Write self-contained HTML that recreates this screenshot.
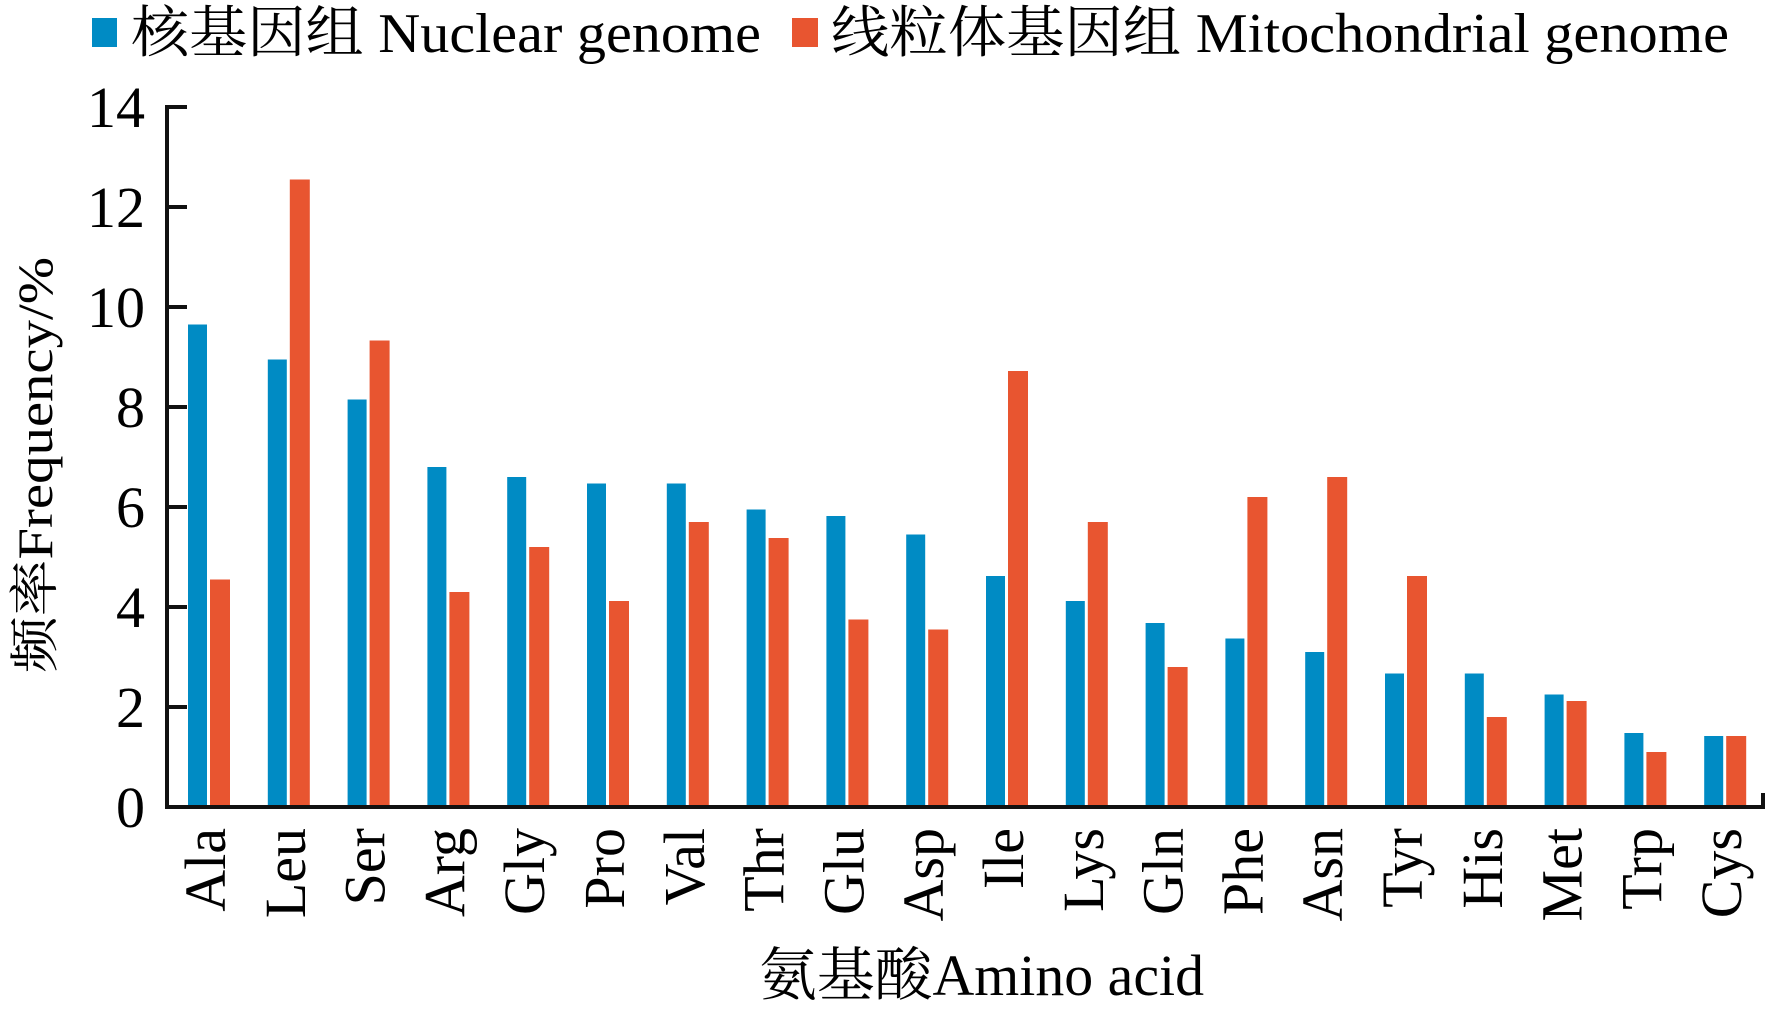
<!DOCTYPE html>
<html><head><meta charset="utf-8"><style>html,body{margin:0;padding:0;background:#fff}svg{display:block}</style></head>
<body>
<svg width="1766" height="1011" viewBox="0 0 1766 1011" xmlns="http://www.w3.org/2000/svg" font-family="'Liberation Serif','Noto Serif CJK SC','Noto Sans CJK SC',serif">
<rect x="92" y="18" width="25" height="29" fill="#008bc4"/>
<text x="131" y="52" font-size="56" textLength="630" lengthAdjust="spacingAndGlyphs">核基因组 Nuclear genome</text>
<rect x="792" y="18" width="26" height="29" fill="#e85530"/>
<text x="831" y="52" font-size="56" textLength="898" lengthAdjust="spacingAndGlyphs">线粒体基因组 Mitochondrial genome</text>
<g id="bars"></g>
<g stroke="#111" stroke-width="4" fill="none">
<line x1="167" y1="105" x2="167" y2="809"/>
<line x1="165" y1="807" x2="1764" y2="807"/>
<line x1="1763" y1="793" x2="1763" y2="809"/>
</g>
<g id="ticks"></g>
<text transform="translate(52,465) rotate(-90)" text-anchor="middle" font-size="50" textLength="416" lengthAdjust="spacingAndGlyphs">频率Frequency/%</text>
<text x="759" y="995" font-size="58" textLength="445" lengthAdjust="spacingAndGlyphs">氨基酸Amino acid</text>
<script>
const names=["Ala","Leu","Ser","Arg","Gly","Pro","Val","Thr","Glu","Asp","Ile","Lys","Gln","Phe","Asn","Tyr","His","Met","Trp","Cys"];
const b=[9.65,8.95,8.15,6.8,6.6,6.47,6.47,5.95,5.82,5.45,4.62,4.12,3.68,3.37,3.1,2.67,2.67,2.25,1.48,1.42];
const o=[4.55,12.55,9.33,4.3,5.2,4.12,5.7,5.38,3.75,3.55,8.72,5.7,2.8,6.2,6.6,4.62,1.8,2.12,1.1,1.42];
const ns="http://www.w3.org/2000/svg";
const bars=document.getElementById("bars"),ticks=document.getElementById("ticks");
const y0=807,u=50,W=79.8;
function el(t,a,p,txt){const e=document.createElementNS(ns,t);for(const k in a)e.setAttribute(k,a[k]);if(txt)e.textContent=txt;p.appendChild(e);return e;}
names.forEach((n,i)=>{const g=167+W*i;
el("rect",{x:g+21,y:y0-b[i]*u,width:19,height:b[i]*u,fill:"#008bc4"},bars);
el("rect",{x:g+43,y:y0-o[i]*u,width:20,height:o[i]*u,fill:"#e85530"},bars);
el("text",{transform:`translate(${g+58},828) rotate(-90)`,"text-anchor":"end","font-size":"58"},ticks,n);
});
for(let v=0;v<=14;v+=2){const y=y0-v*u;
el("line",{x1:167,y1:y,x2:187,y2:y,stroke:"#111","stroke-width":4},ticks);
el("text",{x:145,y:y+20,"text-anchor":"end","font-size":"58"},ticks,String(v));}
</script>
</svg>
</body></html>
